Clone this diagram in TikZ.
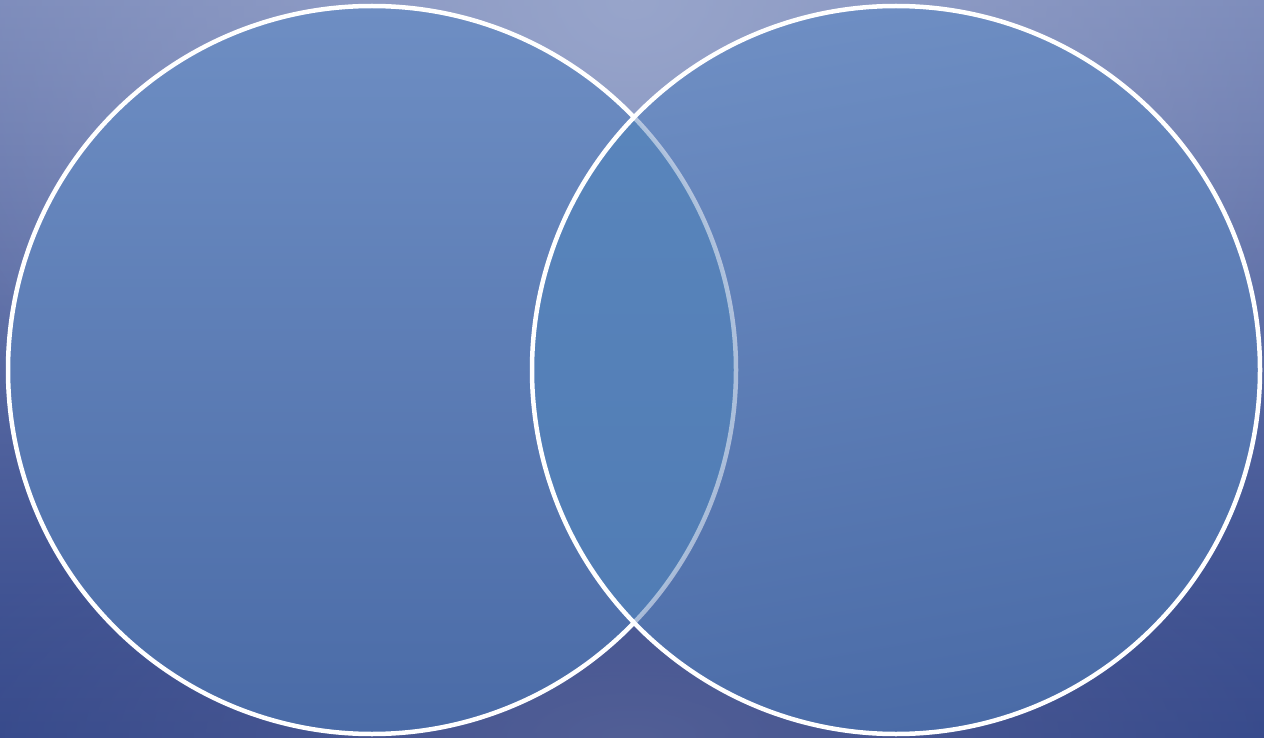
\documentclass[tikz,border=0pt]{standalone}
\usetikzlibrary{fadings}
\definecolor{bgTop}{HTML}{7887B8}
\definecolor{bgMid}{HTML}{5A679F}
\definecolor{bgBot}{HTML}{33478A}
\definecolor{hiA}{HTML}{98A5CB}
\definecolor{hiB}{HTML}{525F96}
\definecolor{cTop}{HTML}{6E8EC3}
\definecolor{cBot}{HTML}{4A6BA7}
\definecolor{iTop}{HTML}{5B87BD}
\definecolor{iBot}{HTML}{4F7AB3}
\tikzfading[name=glow, inner color=transparent!0, outer color=transparent!100]
\tikzset{
  ring/.style={draw=white, line width=4.5pt},
  innerring/.style={draw=white, draw opacity=0.5, line width=4.5pt},
}
\begin{document}
\begin{tikzpicture}[x=1pt,y=-1pt]
\useasboundingbox (0,0) rectangle (1264,738);
\begin{scope}
  \clip (0,0) rectangle (1264,738);
  \shade[top color=bgTop, middle color=bgMid, bottom color=bgBot] (0,0) rectangle (1264,738);
  \fill[hiA, path fading=glow] (632,0) ellipse[x radius=800, y radius=650];
  \fill[hiB, path fading=glow] (632,738) ellipse[x radius=750, y radius=300];
\end{scope}
% circles
\coordinate (L) at (372,370);
\coordinate (R) at (896,370);
\shade[top color=cTop, bottom color=cBot] (L) circle[radius=364];
\shade[top color=cTop, bottom color=cBot, shading angle=10] (R) circle[radius=364];
\begin{scope}
  \clip (L) circle[radius=364];
  \shade[top color=iTop, bottom color=iBot] (R) circle[radius=364];
\end{scope}
\begin{scope}[even odd rule]
  \clip (-10,-10) rectangle (1274,748) (R) circle[radius=364];
  \draw[ring] (L) circle[radius=364];
\end{scope}
\begin{scope}
  \clip (R) circle[radius=364];
  \draw[innerring] (L) circle[radius=364];
\end{scope}
\draw[ring] (R) circle[radius=364];
\end{tikzpicture}
\end{document}
